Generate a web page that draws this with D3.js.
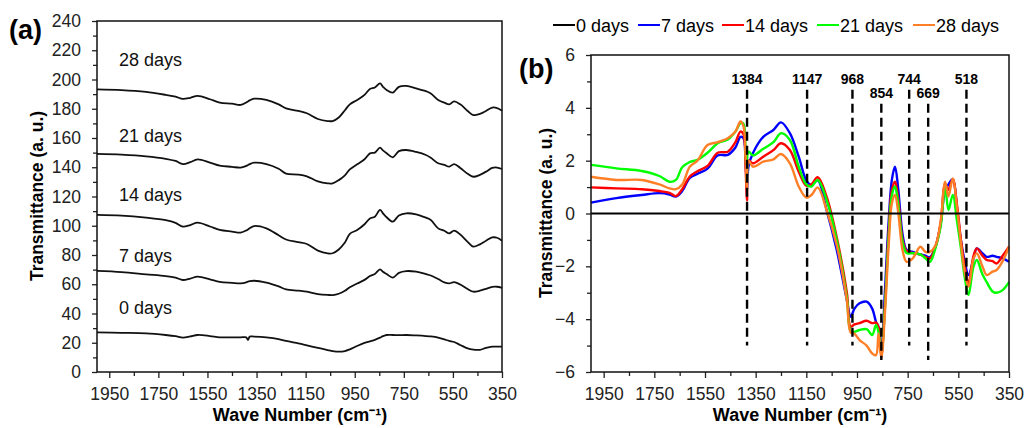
<!DOCTYPE html>
<html>
<head>
<meta charset="utf-8">
<script src="https://cdn.jsdelivr.net/npm/d3@7"></script>
<style>
  body { margin: 0; background: #fff; }
  text { font-family: "Liberation Sans", Arial, sans-serif; }
</style>
</head>
<body>
<div id="chart"></div>
<script>
// ---- data: panel (a), offset spectra ----
var wnA = [2000, 1900, 1800, 1720, 1680, 1650, 1620, 1590, 1540, 1500, 1450, 1415, 1392, 1385, 1378, 1360,
           1310, 1260, 1230, 1180, 1145, 1100, 1060, 1040, 1015, 990, 970, 940, 910, 888, 868, 847, 835,
           820, 795, 770, 740, 700, 660, 640, 610, 585, 565, 545, 520, 490, 467, 440, 415, 390, 370, 350];
var a0 = [27.1, 26.8, 26.4, 25.3, 24.5, 23.5, 24.3, 25.3, 24.6, 23.7, 23.7, 23.7, 23.7, 21.9, 24.2, 24.2,
          23.7, 22.5, 21.2, 19.5, 18.2, 16.5, 15.0, 14.3, 13.9, 14.3, 15.5, 17.8, 19.9, 21.0, 22.0, 23.5, 24.5,
          25.3, 25.3, 25.2, 25.3, 25.0, 24.6, 24.3, 23.5, 22.3, 21.3, 20.5, 18.5, 16.1, 15.3, 15.2, 16.5, 17.3, 17.3, 17.3];
var a7 = [69.1, 68.3, 66.8, 65.6, 64.5, 62.9, 63.9, 65.2, 63.4, 61.7, 61.0, 60.6, 61.3, 61.8, 62.1, 62.4,
          61.1, 58.5, 56.5, 55.6, 54.9, 53.3, 52.7, 52.6, 53.5, 55.5, 58.0, 60.5, 63.0, 65.6, 67.0, 70.2, 68.5,
          67.0, 64.5, 67.8, 69.0, 68.6, 67.0, 66.0, 63.6, 61.3, 60.6, 61.5, 59.8, 56.8, 54.9, 55.6, 56.9, 58.2, 58.3, 57.6];
var a14 = [107.4, 106.9, 105.5, 103.8, 102.0, 99.4, 100.5, 102.1, 99.5, 97.1, 96.0, 95.3, 96.8, 97.5, 98.3, 99.8,
           98.2, 93.5, 90.6, 88.8, 87.5, 83.0, 81.1, 81.2, 83.8, 88.5, 94.5, 97.1, 101.0, 105.0, 106.2, 110.8, 108.5,
           105.8, 102.8, 107.0, 108.5, 107.8, 105.5, 103.9, 98.2, 96.6, 94.8, 96.6, 94.0, 89.0, 85.7, 87.3, 89.8, 92.0, 91.8, 89.8];
var a21 = [149.1, 148.6, 147.5, 145.8, 144.3, 142.2, 143.5, 145.4, 143.2, 141.1, 140.3, 139.7, 140.9, 141.5, 142.1, 143.1,
           142.2, 139.0, 135.7, 135.0, 133.8, 130.3, 129.0, 129.0, 131.2, 134.5, 138.5, 142.0, 145.5, 149.5, 150.0, 153.4, 151.5,
           149.5, 146.8, 151.0, 151.8, 150.5, 148.4, 146.5, 142.7, 141.6, 140.4, 142.2, 139.5, 135.5, 133.5, 134.8, 137.0, 139.5, 139.8, 138.8];
var a28 = [193.3, 192.8, 191.5, 189.5, 188.3, 186.7, 187.5, 188.8, 186.5, 184.2, 183.5, 182.6, 184.3, 185.0, 185.7, 186.9,
           186.0, 183.0, 180.3, 178.5, 176.9, 173.0, 171.6, 171.6, 174.0, 179.0, 183.0, 186.0, 189.5, 193.5, 194.5, 197.3, 195.0,
           192.8, 191.0, 195.0, 195.6, 194.0, 192.0, 190.5, 186.0, 184.2, 183.0, 185.0, 183.0, 178.5, 175.7, 176.5, 178.5, 180.8, 180.5, 178.7];
var seriesA = [a0, a7, a14, a21, a28];
var labelsA = ["0 days", "7 days", "14 days", "21 days", "28 days"];
var labelPosA = [40, 75, 117, 157.5, 209];   // y value of each curve label

// ---- data: panel (b), difference spectra ----
var wnB = [2000, 1900, 1800, 1730, 1690, 1665, 1640, 1610, 1580, 1540, 1500, 1460, 1430, 1410, 1398, 1390, 1384, 1378,
           1360, 1320, 1280, 1250, 1215, 1180, 1150, 1130, 1105, 1070, 1030, 990, 975, 960, 940, 912, 890, 875, 865,
           854, 840, 825, 812, 800, 788, 770, 754, 730, 700, 680, 662, 640, 620, 602, 589, 572, 555, 540, 525, 510,
           490, 477, 455, 438, 415, 399, 375, 350];
var b0 = wnB.map(function() { return 0; });
var b7 = [0.41, 0.58, 0.70, 0.77, 0.72, 0.64, 0.85, 1.35, 1.50, 1.70, 2.20, 2.22, 2.50, 2.90, 2.85, 2.00, 0.90, 1.80,
          2.30, 2.90, 3.16, 3.45, 3.04, 2.15, 1.25, 1.08, 1.25, 0.13, -1.38, -3.28, -3.91, -3.60, -3.40, -3.34, -3.60, -4.10, -4.30,
          -5.20, -3.00, -0.30, 1.30, 1.77, 1.00, -0.80, -1.38, -1.45, -1.55, -1.60, -1.65, -1.25, -0.40, 0.90, 1.10, 1.30, 0.20, -1.00, -1.80, -2.33,
          -1.70, -1.32, -1.50, -1.64, -1.60, -1.64, -1.70, -1.83];
var b14 = [0.99, 0.95, 0.92, 0.85, 0.78, 0.66, 0.92, 1.40, 1.60, 1.80, 2.30, 2.34, 2.70, 3.10, 3.00, 1.80, 0.50, 2.00,
           1.90, 2.15, 2.40, 2.66, 2.40, 1.58, 1.05, 1.10, 1.37, 0.64, -0.90, -3.00, -4.29, -4.20, -4.15, -4.06, -4.15, -4.13, -4.30,
           -5.40, -3.50, -0.70, 0.90, 1.20, 0.60, -1.00, -1.42, -1.50, -1.55, -1.65, -1.70, -1.25, -0.40, 1.10, 0.90, 1.30, 0.30, -1.00, -2.00, -2.64,
           -1.60, -1.32, -1.60, -1.76, -1.80, -1.89, -1.60, -1.26];
var b21 = [1.84, 1.71, 1.61, 1.42, 1.20, 1.27, 1.75, 1.95, 2.03, 2.30, 2.66, 2.80, 3.10, 3.42, 3.40, 2.40, 1.20, 2.34,
           2.20, 2.45, 2.70, 3.04, 2.78, 1.77, 1.10, 1.02, 1.27, 0.51, -1.00, -3.20, -4.45, -4.48, -4.41, -4.38, -4.60, -4.22, -4.50,
           -5.30, -3.60, -0.90, 0.70, 1.02, 0.40, -1.10, -1.50, -1.50, -1.55, -1.70, -1.83, -1.30, -0.50, 1.00, 0.13, 0.70, -0.30, -1.30, -2.40, -3.09,
           -2.00, -1.76, -2.30, -2.60, -2.95, -3.00, -2.90, -2.60];
var b28 = [1.39, 1.27, 1.27, 1.10, 0.95, 0.92, 1.10, 1.77, 2.00, 2.59, 2.70, 2.85, 3.10, 3.48, 3.30, 2.20, 0.89, 2.00,
           1.77, 1.96, 2.05, 2.25, 1.90, 1.02, 0.60, 0.70, 0.99, 0.13, -1.20, -3.30, -4.50, -4.55, -4.79, -5.00, -5.30, -5.36, -4.54,
           -5.48, -3.80, -1.20, 0.40, 0.70, 0.10, -1.40, -1.83, -1.70, -1.26, -1.45, -1.45, -1.20, -0.30, 1.20, 0.64, 1.33, 0.20, -1.10, -2.20, -2.77,
           -1.70, -1.51, -2.00, -2.33, -2.20, -2.14, -1.80, -1.26];
var seriesB = [b7, b14, b21, b28];
var legendNames = ["0 days", "7 days", "14 days", "21 days", "28 days"];
var colorsB = ["#000000", "#0000ff", "#ff0000", "#00ff00", "#ff7f27"];

// marker lines in panel (b): wavenumber, label row, line top/bottom values
var peaks = [1384, 1147, 968, 854, 744, 669, 518];
var peakRow = [0, 0, 0, 1, 0, 1, 0];
var lineTop = [4.68, 4.15];
var lineBottom = [-5.0, -5.55];

var xTicks = [1950, 1750, 1550, 1350, 1150, 950, 750, 550, 350];
var xMinor = [1850, 1650, 1450, 1250, 1050, 850, 650, 450];
var yTicksA = d3.range(0, 241, 20);
var yMinorA = d3.range(10, 240, 20);
var yTicksB = [-6, -4, -2, 0, 2, 4, 6];
var yMinorB = [-5, -3, -1, 1, 3, 5];

var svg = d3.select("#chart").append("svg")
            .attr("width", 1029)
            .attr("height", 428);

function drawAxes(g, x, y, yTicks, yMinor) {
    var x0 = x.range()[0], x1 = x.range()[1];
    var y0 = y.range()[0], y1 = y.range()[1];

    g.append("g").attr("transform", "translate(0," + y0 + ")")
        .call(d3.axisBottom(x).tickValues(xMinor).tickSize(4).tickFormat(""));
    var xa = g.append("g").attr("transform", "translate(0," + y0 + ")")
        .call(d3.axisBottom(x).tickValues(xTicks).tickSize(6).tickPadding(10).tickFormat(d3.format("d")));
    xa.selectAll("text").attr("font-size", 17.5).attr("fill", "#222");

    g.append("g").attr("transform", "translate(" + x0 + ",0)")
        .call(d3.axisLeft(y).tickValues(yMinor).tickSize(4).tickFormat(""));
    var ya = g.append("g").attr("transform", "translate(" + x0 + ",0)")
        .call(d3.axisLeft(y).tickValues(yTicks).tickSize(5).tickPadding(11).tickFormat(d3.format("d")));
    ya.selectAll("text").attr("font-size", 17.5).attr("fill", "#222");

    g.selectAll(".domain").remove();
    g.selectAll(".tick line").attr("stroke", "#222").attr("stroke-width", 1.3);

    g.append("rect")
        .attr("x", x0).attr("y", y1)
        .attr("width", x1 - x0).attr("height", y0 - y1)
        .attr("fill", "none").attr("stroke", "#111").attr("stroke-width", 1.5);
}

// ---------- panel (a) ----------
var xA = d3.scaleLinear().domain([2000, 350]).range([97, 502]);
var yA = d3.scaleLinear().domain([0, 240]).range([372, 21]);
var gA = svg.append("g");

var lineA = d3.line()
    .x(function(d, i) { return xA(wnA[i]); })
    .y(function(d) { return yA(d); })
    .curve(d3.curveCatmullRom.alpha(0.5));

seriesA.forEach(function(s) {
    gA.append("path")
      .attr("d", lineA(s))
      .attr("fill", "none")
      .attr("stroke", "#111")
      .attr("stroke-width", 1.8);
});

drawAxes(gA, xA, yA, yTicksA, yMinorA);

labelsA.forEach(function(t, i) {
    gA.append("text")
      .attr("x", 119)
      .attr("y", yA(labelPosA[i]))
      .attr("font-size", 18)
      .attr("fill", "#111")
      .text(t);
});

gA.append("text")
  .attr("transform", "translate(43,196) rotate(-90)")
  .attr("text-anchor", "middle")
  .attr("font-size", 17.5).attr("font-weight", "bold")
  .text("Transmittance (a. u.)");
gA.append("text")
  .attr("x", 300).attr("y", 421)
  .attr("text-anchor", "middle")
  .attr("font-size", 18).attr("font-weight", "bold")
  .text("Wave Number (cm\u207B\u00B9)");
gA.append("text")
  .attr("x", 9).attr("y", 39)
  .attr("font-size", 27).attr("font-weight", "bold")
  .text("(a)");

// ---------- panel (b) ----------
var xB = d3.scaleLinear().domain([2000, 350]).range([591, 1009]);
var yB = d3.scaleLinear().domain([-6, 6]).range([372, 55]);
var gB = svg.append("g");

var lineB = d3.line()
    .x(function(d, i) { return xB(wnB[i]); })
    .y(function(d) { return yB(d); })
    .curve(d3.curveCatmullRom.alpha(0.5));

seriesB.forEach(function(s, i) {
    gB.append("path")
      .attr("d", lineB(s))
      .attr("fill", "none")
      .attr("stroke", colorsB[i + 1])
      .attr("stroke-width", 2.4);
});

gB.append("path")
  .attr("d", lineB(b0))
  .attr("fill", "none")
  .attr("stroke", "#000")
  .attr("stroke-width", 2);

peaks.forEach(function(p, i) {
    var r = peakRow[i];
    gB.append("line")
      .attr("x1", xB(p)).attr("x2", xB(p))
      .attr("y1", yB(lineTop[r])).attr("y2", yB(lineBottom[r]))
      .attr("stroke", "#000")
      .attr("stroke-width", 2.4)
      .attr("stroke-dasharray", "9,5");
    gB.append("text")
      .attr("x", xB(p))
      .attr("y", yB(lineTop[r]) - 6)
      .attr("text-anchor", "middle")
      .attr("font-size", 14).attr("font-weight", "bold")
      .text(p);
});

drawAxes(gB, xB, yB, yTicksB, yMinorB);

gB.append("text")
  .attr("transform", "translate(552,213) rotate(-90)")
  .attr("text-anchor", "middle")
  .attr("font-size", 17.5).attr("font-weight", "bold")
  .text("Transmittance (a. u.)");
gB.append("text")
  .attr("x", 800).attr("y", 421)
  .attr("text-anchor", "middle")
  .attr("font-size", 18).attr("font-weight", "bold")
  .text("Wave Number (cm\u207B\u00B9)");
gB.append("text")
  .attr("x", 519).attr("y", 78)
  .attr("font-size", 27).attr("font-weight", "bold")
  .text("(b)");

// legend
var legendX = [553, 638, 722, 817, 913];
legendNames.forEach(function(n, i) {
    var lg = gB.append("g").attr("transform", "translate(" + legendX[i] + ",25)");
    lg.append("line")
      .attr("x1", 0).attr("x2", 22)
      .attr("stroke", colorsB[i]).attr("stroke-width", 2);
    lg.append("text")
      .attr("x", 23).attr("y", 6.5)
      .attr("font-size", 18)
      .text(n);
});
</script>
</body>
</html>
